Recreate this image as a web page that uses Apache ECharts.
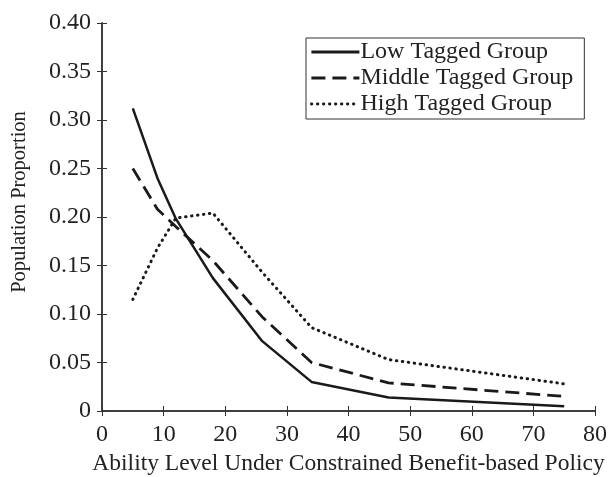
<!DOCTYPE html>
<html>
<head>
<meta charset="utf-8">
<script src="https://cdn.jsdelivr.net/npm/echarts@6/dist/echarts.min.js"></script>
<style>
  html, body { margin: 0; padding: 0; background: #fff; }
  #chart { width: 611px; height: 477px; }
</style>
</head>
<body>
<div id="chart"></div>
<script>
// ability levels (x) and proportions per tagged group
const abilityLevels = [5, 9, 12, 18, 26, 34, 46.5, 75];
const lowGroup = [0.312, 0.240, 0.198, 0.137, 0.072, 0.030, 0.014, 0.005];
const middleGroup = [0.250, 0.208, 0.190, 0.155, 0.097, 0.050, 0.029, 0.015];
const highGroup = [0.115, 0.168, 0.199, 0.204, 0.143, 0.086, 0.053, 0.028];
const seriesNames = ['Low Tagged Group', 'Middle Tagged Group', 'High Tagged Group'];

const chart = echarts.init(document.getElementById('chart'));
const font = 'Liberation Serif';
const ink = '#1a1a1a';

function pairs(ys) {
    return abilityLevels.map((x, i) => [x, ys[i]]);
}

function lineSeries(name, ys, lineType, width, cap) {
    return {
        name: name,
        type: 'line',
        data: pairs(ys),
        symbol: 'none',
        lineStyle: { color: ink, width: width, type: lineType, cap: cap || 'butt' },
        itemStyle: { color: ink },
        animation: false
    };
}

const axisCommon = {
    min: 0,
    axisLine: { show: true, lineStyle: { color: '#333', width: 1.5 } },
    axisTick: { show: true, inside: true, length: 5, lineStyle: { color: '#333' } },
    splitLine: { show: false }
};

const option = {
    backgroundColor: '#ffffff',
    grid: { left: 102, right: 16, top: 23, bottom: 66, containLabel: false, outerBoundsMode: 'none' },
    legend: {
        data: seriesNames,
        orient: 'vertical',
        left: 306,
        top: 38,
        itemWidth: 48,
        itemHeight: 14,
        itemGap: 2,
        padding: [2, 11, 3, 4],
        borderColor: '#333',
        borderWidth: 1,
        backgroundColor: '#fff',
        itemStyle: { opacity: 0 },
        lineStyle: { width: 2.8 },
        textStyle: { fontFamily: font, fontSize: 24, color: '#222', padding: [0, 0, 0, -4] }
    },
    xAxis: [
        Object.assign({}, axisCommon, {
            type: 'value',
            max: 80,
            interval: 10,
            name: 'Ability Level Under Constrained Benefit-based Policy',
            nameLocation: 'middle',
            nameGap: 37,
            nameTextStyle: { fontFamily: font, fontSize: 23.5, color: '#222' },
            axisLabel: { fontFamily: font, fontSize: 24, color: '#222', margin: 12 }
        }),
        Object.assign({}, axisCommon, {
            type: 'value',
            position: 'top',
            max: 80,
            interval: 10,
            axisLabel: { show: false }
        })
    ],
    yAxis: [
        Object.assign({}, axisCommon, {
            type: 'value',
            max: 0.4,
            interval: 0.05,
            name: 'Population Proportion',
            nameLocation: 'middle',
            nameGap: 72,
            nameTextStyle: { fontFamily: font, fontSize: 20.5, color: '#222', padding: [0, 0, 0, 30] },
            axisLabel: {
                fontFamily: font, fontSize: 24, color: '#222', margin: 11,
                formatter: v => (v === 0 ? '0' : v.toFixed(2))
            }
        }),
        Object.assign({}, axisCommon, {
            type: 'value',
            position: 'right',
            max: 0.4,
            interval: 0.05,
            axisLabel: { show: false }
        })
    ],
    series: [
        lineSeries(seriesNames[0], lowGroup, 'solid', 2.5),
        lineSeries(seriesNames[1], middleGroup, [14, 7], 2.8),
        lineSeries(seriesNames[2], highGroup, [0.5, 5.5], 3, 'round')
    ]
};

chart.setOption(option);
</script>
</body>
</html>
